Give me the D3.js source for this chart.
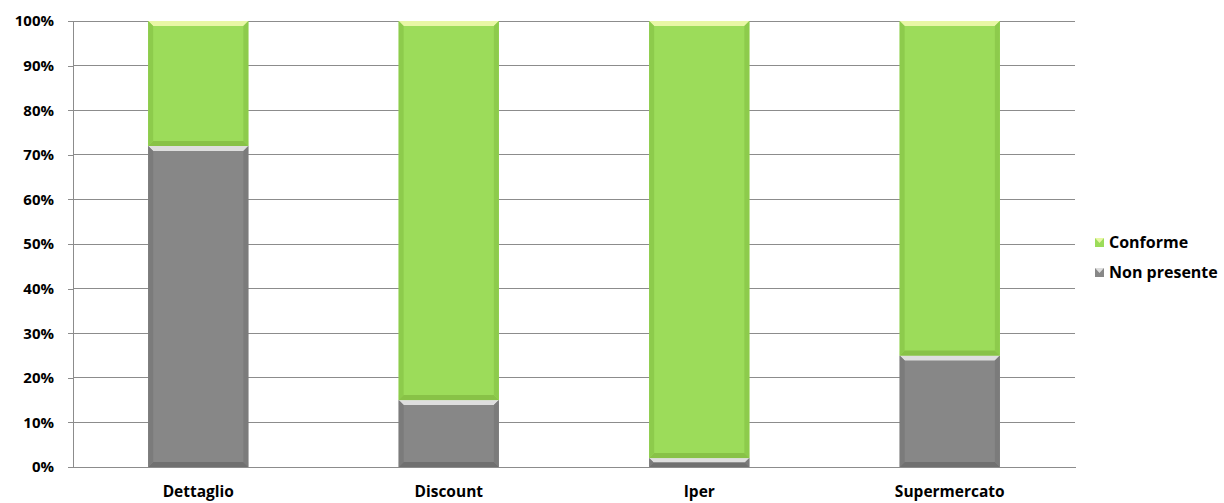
<!DOCTYPE html>
<html>
<head>
<meta charset="utf-8">
<script src="https://cdn.jsdelivr.net/npm/d3@7"></script>
<style>
  html, body { margin: 0; padding: 0; background: #fff; }
  svg { display: block; }
  text { font-family: "Open Sans", "Liberation Sans", sans-serif; font-weight: bold; fill: #000; }
</style>
</head>
<body>
<svg id="chart" width="1224" height="503"></svg>
<script>
// Stores by type and share of checks in each outcome
const categories = ["Dettaglio", "Discount", "Iper", "Supermercato"];
const nonPresente = [72, 15, 2, 25];
const conforme = [28, 85, 98, 75];
const yTicks = [0, 10, 20, 30, 40, 50, 60, 70, 80, 90, 100];

const seriesList = [
  { name: "Non presente", values: nonPresente,
    face: "#878787", top: "#dedede", side: "#7b7b7b", bottom: "#707070" },
  { name: "Conforme", values: conforme,
    face: "#9cdc5a", top: "#e8f7a6", side: "#8dcb4c", bottom: "#88c247" }
];

const svg = d3.select("#chart");
const margin = { left: 73, right: 149, top: 21, bottom: 36 };
const W = 1224, H = 503;

const x = d3.scaleBand().domain(categories)
  .range([margin.left, W - margin.right]).paddingInner(0.6).paddingOuter(0.3);
const y = d3.scaleLinear().domain([0, 100]).range([H - margin.bottom, margin.top]);

// Gridlines
svg.append("g").selectAll("line").data(yTicks.filter(d => d > 0)).join("line")
  .attr("x1", margin.left).attr("x2", W - margin.right)
  .attr("y1", d => y(d)).attr("y2", d => y(d))
  .attr("stroke", "#8c8c8c").attr("stroke-width", 1).attr("shape-rendering", "crispEdges");

// Y axis
const yAxis = svg.append("g").attr("transform", `translate(${margin.left},0)`)
  .call(d3.axisLeft(y).tickValues(yTicks).tickFormat(d => d + "%").tickSize(5).tickPadding(14));
yAxis.select(".domain").attr("stroke", "#8c8c8c").attr("shape-rendering", "crispEdges");
yAxis.selectAll(".tick line").attr("stroke", "#8c8c8c").attr("shape-rendering", "crispEdges");
yAxis.selectAll("text").style("font-size", "15px").attr("font-family", null);

// X axis
const xAxis = svg.append("g").attr("transform", `translate(0,${y(0)})`)
  .call(d3.axisBottom(x).tickSize(0).tickPadding(19));
xAxis.select(".domain").attr("stroke", "#8c8c8c").attr("shape-rendering", "crispEdges");
xAxis.selectAll("text").style("font-size", "15.5px").attr("font-family", null);

// Stacked bars with bevelled edges
const stack = d3.stack().keys([0, 1]).value((d, k) => seriesList[k].values[d]);
const layers = stack(d3.range(categories.length));
const bev = 5;

layers.forEach((layer, k) => {
  const s = seriesList[k];
  const g = svg.append("g");
  layer.forEach((seg, i) => {
    const x0 = x(categories[i]), x1 = x0 + x.bandwidth();
    const yTop = y(seg[1]), yBot = y(seg[0]);
    const h = yBot - yTop;
    const b = Math.min(bev, h / 2);
    const sg = g.append("g");
    sg.append("rect").attr("x", x0).attr("y", yTop).attr("width", x1 - x0).attr("height", h).attr("fill", s.face);
    const poly = (pts, fill) => sg.append("polygon").attr("points", pts.map(p => p.join(",")).join(" ")).attr("fill", fill);
    poly([[x0, yTop], [x1, yTop], [x1 - b, yTop + b], [x0 + b, yTop + b]], s.top);
    poly([[x0, yBot], [x1, yBot], [x1 - b, yBot - b], [x0 + b, yBot - b]], s.bottom);
    poly([[x0, yTop], [x0 + b, yTop + b], [x0 + b, yBot - b], [x0, yBot]], s.side);
    poly([[x1, yTop], [x1 - b, yTop + b], [x1 - b, yBot - b], [x1, yBot]], s.side);
  });
});

// Legend
const legend = svg.append("g").attr("transform", "translate(1095,242)");
[seriesList[1], seriesList[0]].forEach((s, i) => {
  const lg = legend.append("g").attr("transform", `translate(0,${i * 30})`);
  lg.append("rect").attr("x", 0).attr("y", -4).attr("width", 9).attr("height", 9).attr("fill", s.face);
  lg.append("polygon").attr("points", "0,-4 9,-4 4.5,1").attr("fill", s.top);
  lg.append("text").attr("x", 14).attr("y", 6).style("font-size", "16px").text(s.name);
});
</script>
</body>
</html>
